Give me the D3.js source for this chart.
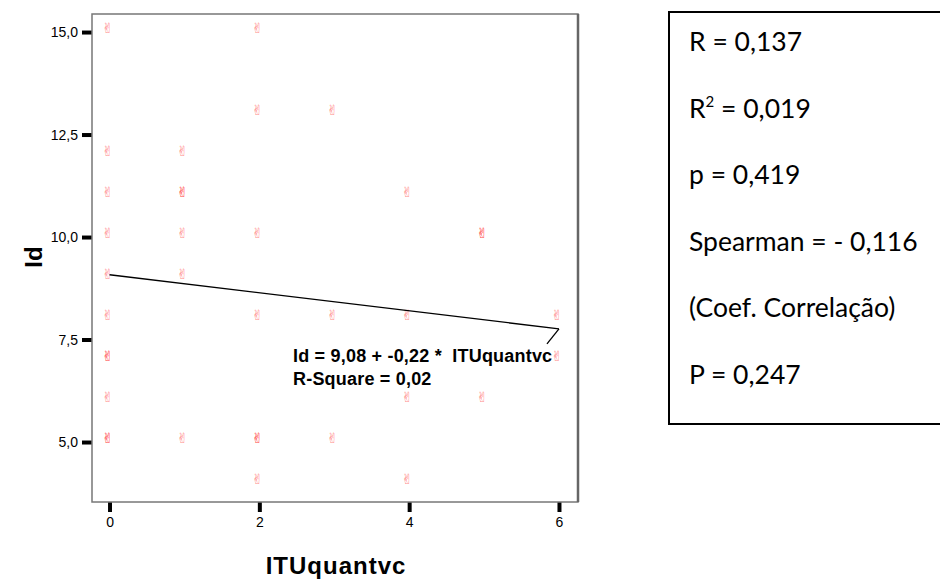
<!doctype html>
<html>
<head>
  <meta charset="utf-8">
  <title>Id x ITUquantvc</title>
  <script src="https://cdnjs.cloudflare.com/ajax/libs/d3/7.8.5/d3.min.js"></script>
  <style>
  body { margin: 0; background: #fff; }
  .tick text { font-family: "Liberation Sans", Arial, sans-serif; font-size: 14px; fill: #000; }
  .tick line { stroke: #000; stroke-width: 4px; }
  .title { font-family: "Liberation Sans", Arial, sans-serif; font-weight: bold; font-size: 24px; }
  .fitlabel { font-family: "Liberation Sans", Arial, sans-serif; font-weight: bold; font-size: 18px; white-space: pre; }
  .stats { font-family: Lato, "Open Sans", sans-serif; font-size: 26.5px; }
  .pt { font-family: "DejaVu Sans", sans-serif; font-size: 14px; fill: #ff4d4d; fill-opacity: 0.7; }
  </style>
</head>
<body>
  <script>
  // scatter points (ITUquantvc, Id); repeated pairs are overlapping cases
  var itu = [0,0,0,0,0,0,0,0,0,0,0,
             1,1,1,1,1,1,
             2,2,2,2,2,2,2,
             3,3,3,
             4,4,4,4,
             5,5,5,
             6,6];
  var id  = [15,12,11,10,9,8,7,7,6,5,5,
             12,11,11,10,9,5,
             15,13,10,8,5,5,4,
             13,8,5,
             11,8,6,4,
             10,10,6,
             8,7];

  // linear fit
  var intercept = 9.08, slope = -0.22;
  var fitText = ["Id = 9,08 + -0,22 *  ITUquantvc", "R-Square = 0,02"];

  var xTicks = [0, 2, 4, 6],
      yTicks = [5, 7.5, 10, 12.5, 15];

  var statLines = ["R = 0,137", "R2 = 0,019", "p = 0,419", "Spearman = - 0,116", "(Coef. Correlação)", "P = 0,247"];

  var svg = d3.select("body").append("svg")
      .attr("width", 940)
      .attr("height", 580);

  var x = d3.scaleLinear().domain([-0.234, 6.254]).range([92, 578]);
  var y = d3.scaleLinear().domain([3.537, 15.44]).range([502, 14]);

  var comma = function(f) { return function(d) { return f(d).replace(".", ","); }; };

  svg.append("g")
    .attr("transform", "translate(0,502)")
    .call(d3.axisBottom(x).tickValues(xTicks).tickSize(10).tickPadding(5).tickFormat(d3.format("d")))
    .call(function(g) { g.select(".domain").remove(); });

  svg.append("g")
    .attr("transform", "translate(92,0)")
    .call(d3.axisLeft(y).tickValues(yTicks).tickSize(10).tickPadding(4).tickFormat(comma(d3.format(".1f"))))
    .call(function(g) { g.select(".domain").remove(); });

  // plot frame
  svg.append("rect")
    .attr("x", x.range()[0]).attr("y", y.range()[1])
    .attr("width", x.range()[1] - x.range()[0])
    .attr("height", y.range()[0] - y.range()[1])
    .attr("fill", "none")
    .attr("stroke", "#777")
    .attr("stroke-width", 1.5);
  svg.append("line")
    .attr("x1", x.range()[1]).attr("x2", x.range()[1])
    .attr("y1", y.range()[1]).attr("y2", y.range()[0])
    .attr("stroke", "#666").attr("stroke-width", 2.5);

  // points: victory-hand glyph, base sits on the value
  svg.append("g").selectAll("text")
    .data(itu)
    .join("text")
    .attr("class", "pt")
    .attr("x", function(d) { return x(d) - 2; })
    .attr("y", function(d, i) { return y(id[i]) + 1; })
    .attr("text-anchor", "middle")
    .text("\u270C");

  // fit line
  var fit = [0, 6].map(function(v) { return [v, intercept + slope * v]; });
  svg.append("path")
    .datum(fit)
    .attr("fill", "none")
    .attr("stroke", "#000")
    .attr("stroke-width", 1.3)
    .attr("d", d3.line().x(function(d) { return x(d[0]); }).y(function(d) { return y(d[1]); }));

  var end = fit[1];
  svg.append("line")
    .attr("x1", x(end[0])).attr("y1", y(end[1]))
    .attr("x2", x(end[0]) - 12).attr("y2", y(end[1]) + 15)
    .attr("stroke", "#000").attr("stroke-width", 1.3);

  svg.selectAll(".fitlabel")
    .data(fitText)
    .join("text")
    .attr("class", "fitlabel")
    .attr("x", 293)
    .attr("y", function(d, i) { return 362 + i * 23; })
    .attr("letter-spacing", 0.2)
    .text(function(d) { return d; });

  // axis titles
  svg.append("text")
    .attr("class", "title")
    .attr("x", 336).attr("y", 574)
    .attr("text-anchor", "middle")
    .attr("letter-spacing", 1)
    .text("ITUquantvc");

  svg.append("text")
    .attr("class", "title")
    .attr("transform", "translate(42,257) rotate(-90)")
    .attr("text-anchor", "middle")
    .text("Id");

  // stats box
  svg.append("rect")
    .attr("x", 669).attr("y", 12)
    .attr("width", 300).attr("height", 412)
    .attr("fill", "none")
    .attr("stroke", "#000")
    .attr("stroke-width", 2);

  var st = svg.selectAll(".stats")
    .data(statLines)
    .join("text")
    .attr("class", "stats")
    .attr("x", 689)
    .attr("y", function(d, i) { return 51 + i * 66.5; });

  st.each(function(d) {
    var t = d3.select(this);
    if (d.indexOf("R2") === 0) {
      t.append("tspan").text("R");
      t.append("tspan").attr("dy", -11).attr("font-size", 15).text("2");
      t.append("tspan").attr("dy", 11).text(" = 0,019");
    } else {
      t.text(d);
    }
  });
  </script>
</body>
</html>
